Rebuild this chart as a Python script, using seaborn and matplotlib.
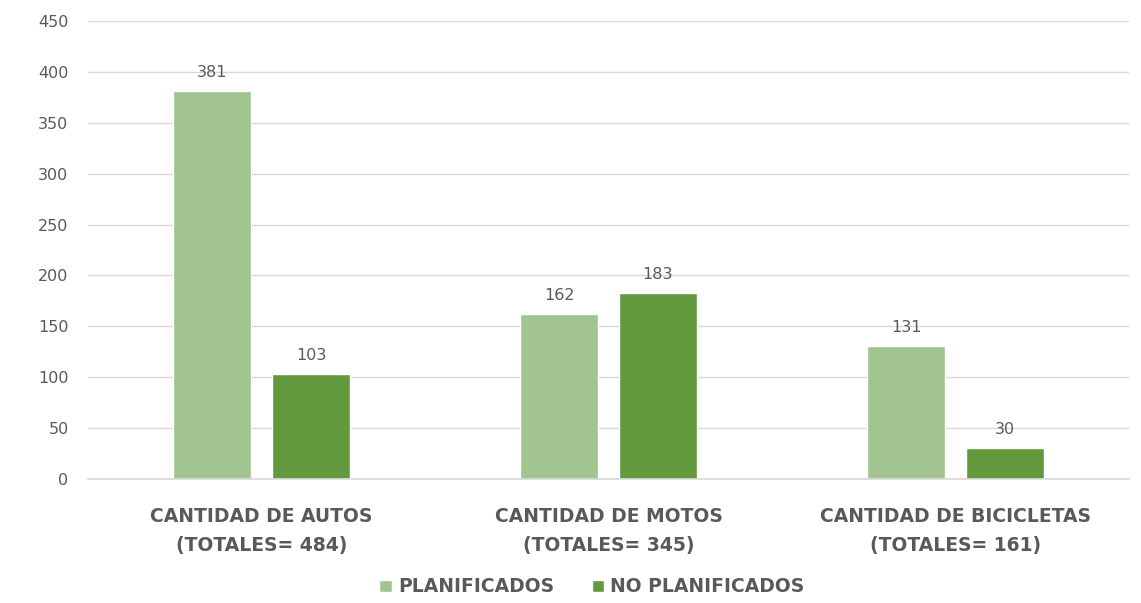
import matplotlib
matplotlib.use("Agg")
import matplotlib.pyplot as plt
import seaborn as sns
import pandas as pd

categories = ["CANTIDAD DE AUTOS\n(TOTALES= 484)",
              "CANTIDAD DE MOTOS\n(TOTALES= 345)",
              "CANTIDAD DE BICICLETAS\n(TOTALES= 161)"]
series = ["PLANIFICADOS", "NO PLANIFICADOS"]
planificados = [381, 162, 131]
no_planificados = [103, 183, 30]
y_ticks = [0, 50, 100, 150, 200, 250, 300, 350, 400, 450]

df = pd.DataFrame({
    "categoria": categories * 2,
    "serie": [series[0]] * 3 + [series[1]] * 3,
    "valor": planificados + no_planificados,
})

sns.set_theme(style="white")
plt.rcParams["font.family"] = ["DejaVu Sans"]

text_color = "#595959"
palette = {series[0]: "#A1C490", series[1]: "#63993D"}

fig = plt.figure(figsize=(11.41, 6.03), dpi=100)
ax = fig.add_axes([88 / 1141, 1 - 479 / 603, (1129 - 88) / 1141, (479 - 21) / 603])

sns.barplot(data=df, x="categoria", y="valor", hue="serie", order=categories,
            hue_order=series, palette=palette, width=0.57, gap=0.22,
            saturation=1, ax=ax, legend=True)

for cont in ax.containers:
    ax.bar_label(cont, labels=[f"{int(v)}" for v in cont.datavalues],
                 padding=8, color=text_color, fontsize=11.5)

ax.set_ylim(0, 450)
ax.set_xlim(-0.5, 2.5)
ax.set_yticks(y_ticks)
ax.set_yticklabels([str(t) for t in y_ticks], color=text_color, fontsize=11.5)
ax.yaxis.grid(True, color="#D9D9D9", linewidth=1)
ax.set_axisbelow(True)
for s in ["top", "right", "left"]:
    ax.spines[s].set_visible(False)
ax.spines["bottom"].set_color("#D9D9D9")
ax.tick_params(axis="y", length=0, pad=14)
ax.tick_params(axis="x", length=0, pad=20)
for lbl in ax.get_xticklabels():
    lbl.set_fontweight("bold")
    lbl.set_color(text_color)
    lbl.set_fontsize(13.5)
    lbl.set_linespacing(1.7)
ax.set_xlabel("")
ax.set_ylabel("")

handles, labels = ax.get_legend_handles_labels()
ax.legend_.remove()
leg = fig.legend(handles, labels, loc="center", bbox_to_anchor=(592 / 1141, 1 - 587 / 603),
                 ncol=2, frameon=False, handlelength=0.65, handleheight=0.65,
                 handletextpad=0.35, columnspacing=2.0,
                 prop={"weight": "bold", "size": 13.5})
for t in leg.get_texts():
    t.set_color(text_color)

fig.savefig("out.png", dpi=100)
